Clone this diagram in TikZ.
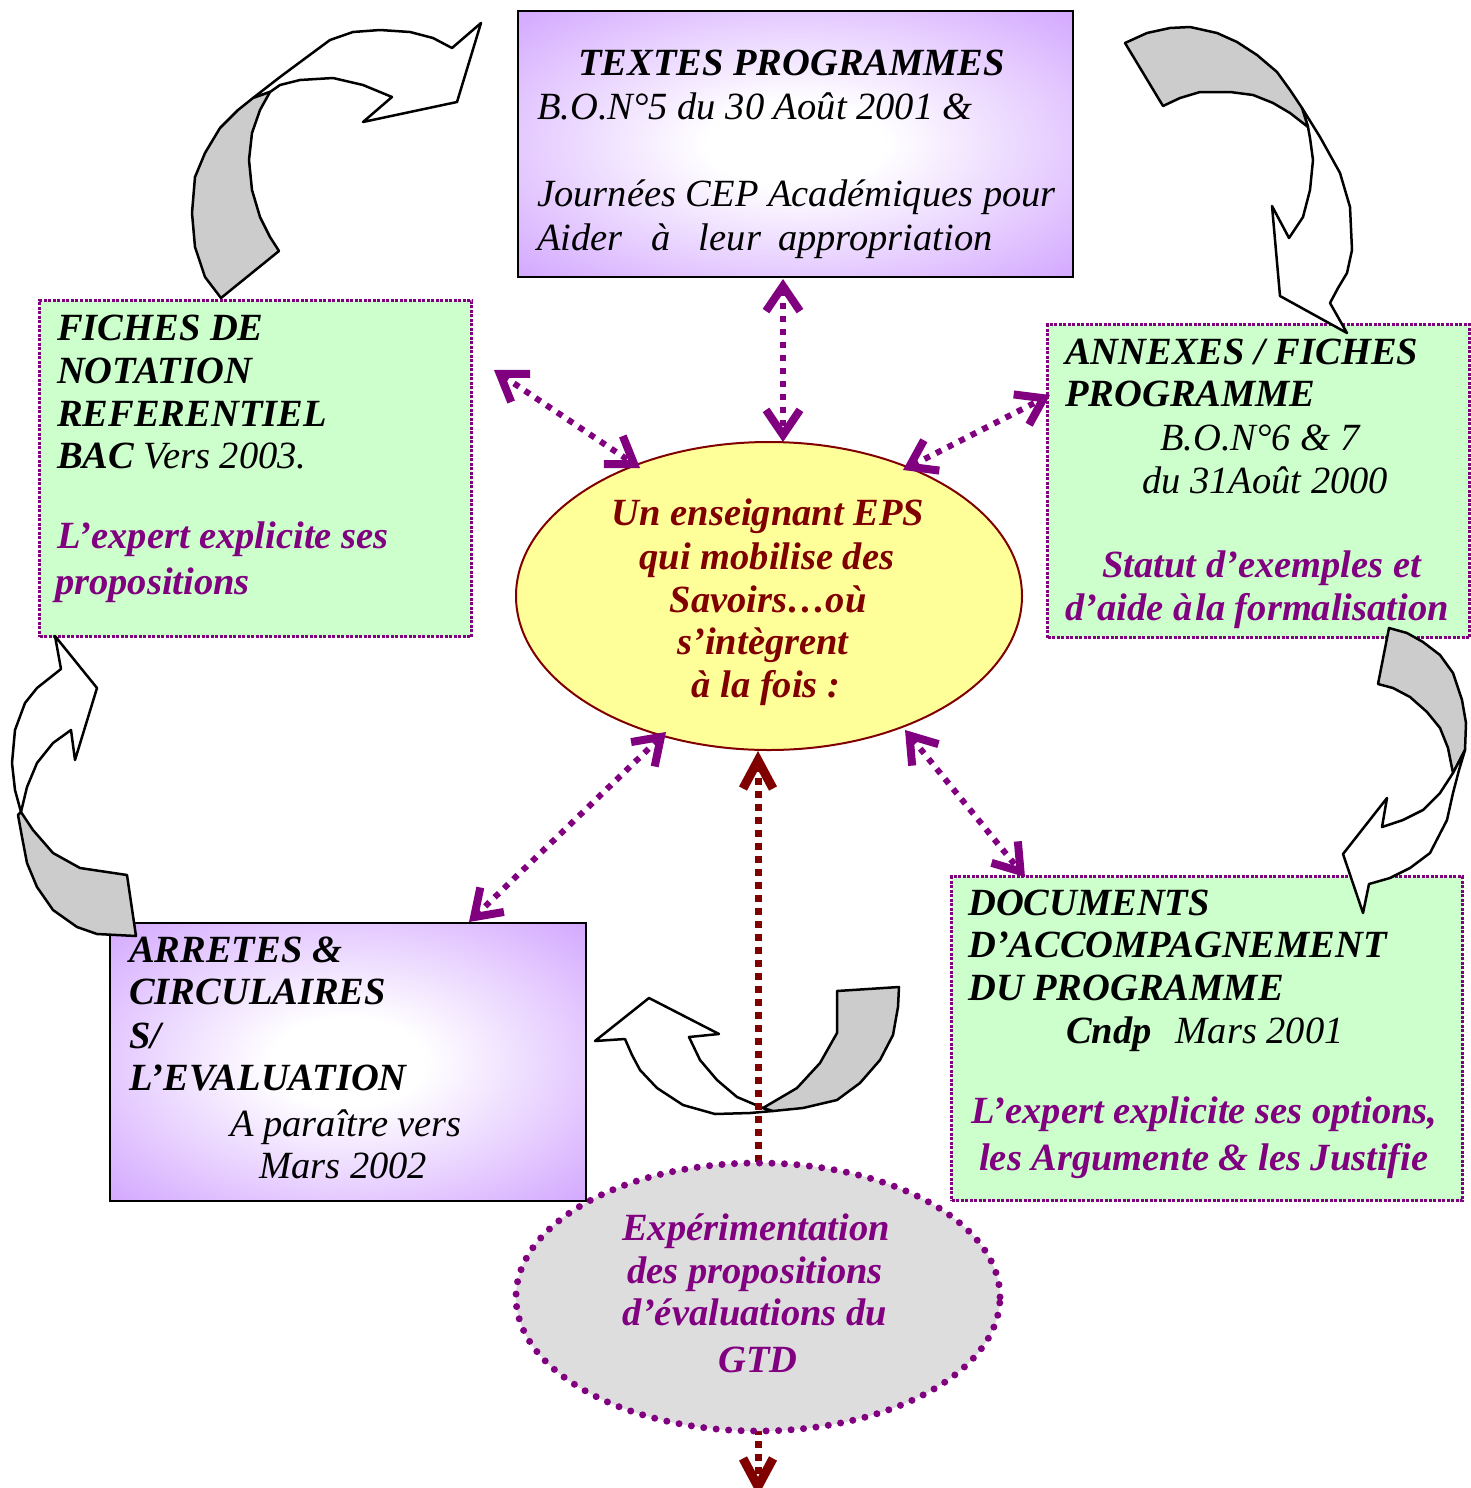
\documentclass[tikz,border=0pt]{standalone}
\usepackage{fontspec}
\setmainfont{Liberation Serif}
\usetikzlibrary{arrows.meta,shapes.geometric}
\definecolor{boxpurple}{HTML}{CC99FF}
\definecolor{boxgreen}{HTML}{CCFFCC}
\definecolor{ellyellow}{HTML}{FFFF99}
\definecolor{ellgray}{HTML}{DDDDDD}
\definecolor{arrgray}{HTML}{CCCCCC}
\definecolor{purp}{HTML}{800080}
\definecolor{dred}{HTML}{800000}
\pgfdeclareradialshading{boxglow}{\pgfpoint{0bp}{0bp}}{color(0bp)=(white); color(8bp)=(white); color(40bp)=(boxpurple); color(50bp)=(boxpurple)}
\newcommand\fsz{\fontsize{38.5}{44}\selectfont}
\tikzset{
  barbP/.tip={Straight Barb[length=25pt,width=34pt,line width=8pt]},
  barbR/.tip={Straight Barb[length=28pt,width=30pt,line width=9pt]},
}
\begin{document}
\begin{tikzpicture}[x=1pt,y=-1pt,
  pbox/.style={draw=black, line width=2pt, shade, shading=boxglow, anchor=north west, inner sep=0pt},
  gbox/.style={draw=purp, fill=boxgreen, line width=3pt, dash pattern=on 3pt off 1.5pt, anchor=north west, inner sep=0pt},
  carr/.style={draw=black, line width=2.5pt, line join=round},
  conn/.style={draw=purp, line width=6pt, dash pattern=on 6pt off 7pt, arrows=barbP-barbP},
  redc/.style={draw=dred, line width=7pt, dash pattern=on 7pt off 6pt, arrows=barbR-barbR},
  tx/.style={inner sep=0pt, anchor=base west, font=\fsz\itshape},
  tb/.style={inner sep=0pt, anchor=base west, font=\fsz\bfseries\itshape},
  cx/.style={inner sep=0pt, anchor=base, font=\fsz\itshape},
  cb/.style={inner sep=0pt, anchor=base, font=\fsz\bfseries\itshape},
]
\fill[white] (0,0) rectangle (1471,1488);
\useasboundingbox (0,0) rectangle (1471,1488);

% boxes
\node[pbox, minimum width=555pt, minimum height=266pt] (textes) at (517,10) {};
\node[gbox, minimum width=432pt, minimum height=336pt] (fiches) at (38,299) {};
\node[gbox, minimum width=422pt, minimum height=313pt] (annexes) at (1046,323) {};
\node[gbox, minimum width=511pt, minimum height=324pt] (docs) at (950,875) {};
\node[pbox, minimum width=476pt, minimum height=278pt] (arretes) at (109,922) {};
\node[ellipse, draw=dred, line width=2pt, fill=ellyellow, minimum width=506pt, minimum height=308pt, inner sep=0pt] (ens) at (769,596) {};

% curved block arrows
\filldraw[carr, fill=white] (253,98) -- (280,77) -- (307,57) -- (330,40) -- (353,32) -- (380,30) -- (410,32) -- (433,38) -- (452,48) -- (481,23) -- (457,102) -- (363,122) -- (392,97) -- (363,85) -- (333,78) -- (300,80) -- (280,85) -- (270,92) -- cycle;
\filldraw[carr, fill=arrgray] (221,298) -- (205,277) -- (195,247) -- (192,213) -- (195,177) -- (205,153) -- (220,128) -- (238,110) -- (253,98) -- (270,92) -- (260,110) -- (252,133) -- (249,160) -- (252,190) -- (260,217) -- (270,237) -- (279,251) -- cycle;

\filldraw[carr, fill=white] (1302,108) -- (1320,137) -- (1340,173) -- (1350,207) -- (1352,250) -- (1347,273) -- (1338,288) -- (1330,303) -- (1347,333) -- (1280,296) -- (1272,206) -- (1289,238) -- (1303,217) -- (1310,190) -- (1313,160) -- (1310,138) -- (1308,127) -- cycle;
\filldraw[carr, fill=arrgray] (1125,43) -- (1147,33) -- (1170,28) -- (1190,27) -- (1217,33) -- (1237,42) -- (1257,55) -- (1277,72) -- (1290,90) -- (1302,108) -- (1308,127) -- (1290,113) -- (1273,103) -- (1253,95) -- (1230,92) -- (1200,92) -- (1180,98) -- (1163,106) -- cycle;

\filldraw[carr, fill=white] (55,636) -- (97,688) -- (75,760) -- (71,730) -- (53,743) -- (37,763) -- (27,787) -- (21,812) -- (15,790) -- (12,763) -- (15,730) -- (25,703) -- (37,688) -- (61,669) -- cycle;
\filldraw[carr, fill=arrgray] (21,812) -- (33,830) -- (53,853) -- (80,868) -- (127,875) -- (136,936) -- (97,934) -- (77,927) -- (53,910) -- (37,887) -- (27,863) -- (22,837) -- (18,815) -- cycle;

\filldraw[carr, fill=arrgray] (1389,628) -- (1378,684) -- (1393,688) -- (1410,697) -- (1427,712) -- (1440,728) -- (1448,748) -- (1453,773) -- (1465,750) -- (1466,723) -- (1462,700) -- (1453,673) -- (1440,655) -- (1423,642) -- (1407,633) -- cycle;
\filldraw[carr, fill=white] (1453,773) -- (1440,793) -- (1423,810) -- (1403,820) -- (1382,827) -- (1387,798) -- (1343,854) -- (1363,913) -- (1369,884) -- (1390,878) -- (1410,868) -- (1430,853) -- (1447,820) -- (1453,793) -- (1459,770) -- (1465,750) -- cycle;

\filldraw[carr, fill=white] (595,1041) -- (649,998) -- (719,1034) -- (689,1037) -- (700,1060) -- (717,1080) -- (737,1097) -- (763,1108) -- (773,1111) -- (750,1113) -- (715,1114) -- (683,1105) -- (657,1088) -- (640,1070) -- (632,1055) -- (625,1039) -- cycle;
\filldraw[carr, fill=arrgray] (763,1108) -- (797,1088) -- (820,1063) -- (837,1033) -- (837,1010) -- (837,991) -- (899,987) -- (898,1007) -- (893,1035) -- (880,1060) -- (860,1083) -- (837,1100) -- (803,1108) -- (773,1111) -- cycle;

% connector end points
\coordinate (vA) at (783,279);
\coordinate (vB) at (783,442);
\coordinate (ulA) at (494,370);
\coordinate (ulB) at (640,468);
\coordinate (urA) at (903,470);
\coordinate (urB) at (1050,395);
\coordinate (llA) at (666,732);
\coordinate (llB) at (469,922);
\coordinate (lrA) at (905,730);
\coordinate (lrB) at (1025,877);
\coordinate (rA) at (758,751);
\coordinate (rB) at (758,1496);

\draw[conn] (vA) -- (vB);
\draw[conn] (ulA) -- (ulB);
\draw[conn] (urA) -- (urB);
\draw[conn] (llA) -- (llB);
\draw[conn] (lrA) -- (lrB);
\draw[redc] (rA) -- (rB);

\node[ellipse, draw=purp, fill=ellgray, line width=7pt, dash pattern=on 0pt off 12.5pt, line cap=round, minimum width=484pt, minimum height=268pt, inner sep=0pt] (exp) at (758,1297) {};

% texts
\node[tb] (tp1) at (578,75) {TEXTES PROGRAMMES};
\node[tx] (tp2) at (537,119) {B.O.N°5 du 30 Août 2001 \&};
\node[tx] (tp3) at (537,206) {Journées CEP Académiques pour};
\node[tx] (tp4) at (537,250) {Aider\hspace{29pt}à\hspace{28pt}leur\hspace{17pt}appropriation};

\node[tb] (fc1) at (57,340) {FICHES DE};
\node[tb] (fc2) at (57,383) {NOTATION};
\node[tb] (fc3) at (57,426) {REFERENTIEL};
\node[tx] (fc4) at (57,468) {\bfseries BAC \mdseries Vers 2003.};
\node[tb, text=purp] (fc5) at (57,548) {L’expert explicite ses};
\node[tb, text=purp] (fc6) at (55,594) {propositions};

\node[tb] (an1) at (1065,364) {ANNEXES / FICHES};
\node[tb] (an2) at (1065,406) {PROGRAMME};
\node[tx] (an3) at (1160,450) {B.O.N°6 \& 7};
\node[tx] (an4) at (1142,493) {du 31Août 2000};
\node[tb, text=purp] (an5) at (1102,577) {Statut d’exemples et};
\node[tb, text=purp] (an6) at (1065,620) {d’aide à\hspace{3pt}la formalisation};

\node[cb, text=dred] (el1) at (768,525) {Un enseignant EPS};
\node[cb, text=dred] (el2) at (767,569) {qui mobilise des};
\node[cb, text=dred] (el3) at (768,612) {Savoirs…où};
\node[cb, text=dred] (el4) at (763,654) {s’intègrent};
\node[cb, text=dred] (el5) at (766,697) {à la fois :};

\node[tb] (dc1) at (968,915) {DOCUMENTS};
\node[tb] (dc2) at (968,957) {D’ACCOMPAGNEMENT};
\node[tb] (dc3) at (968,1000) {DU PROGRAMME};
\node[tx] (dc4) at (1066,1043) {\bfseries Cndp\hspace{24pt}\mdseries Mars 2001};
\node[tb, text=purp] (dc5) at (971,1123) {L’expert explicite ses options,};
\node[tb, text=purp] (dc6) at (979,1170) {les Argumente \& les Justifie};

\node[tb] (ar1) at (129,962) {ARRETES \&};
\node[tb] (ar2) at (129,1004) {CIRCULAIRES};
\node[tb] (ar3) at (129,1048) {S/};
\node[tb] (ar4) at (129,1090) {L’EVALUATION};
\node[tx] (ar5) at (230,1136) {A paraître vers};
\node[tx] (ar6) at (259,1178) {Mars 2002};

\node[cb, text=purp] (ex1) at (756,1240) {Expérimentation};
\node[cb, text=purp] (ex2) at (755,1283) {des propositions};
\node[cb, text=purp] (ex3) at (755,1325) {d’évaluations du};
\node[cb, text=purp] (ex4) at (758,1372) {GTD};
\end{tikzpicture}
\end{document}
